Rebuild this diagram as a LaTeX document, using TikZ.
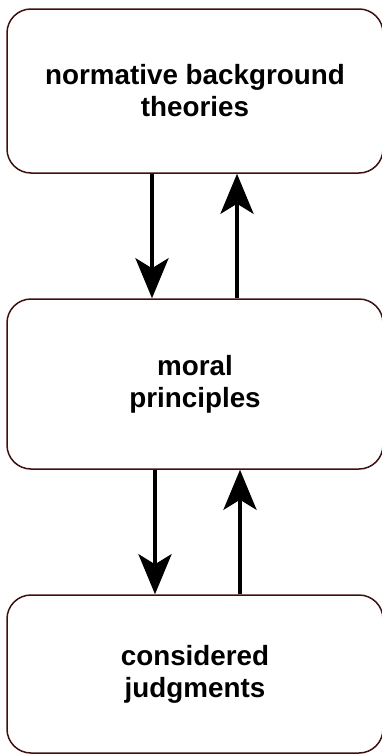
\documentclass[tikz,border=0pt]{standalone}
\usepackage{fontspec}
\setmainfont{Liberation Sans}
\usetikzlibrary{arrows.meta}
\definecolor{boxline}{RGB}{64,16,16}
\begin{document}
\begin{tikzpicture}[x=1pt,y=-1pt,
  stage/.style={draw=boxline, line width=1.5pt, rounded corners=24pt,
    minimum width=376pt, align=center,
    font=\fontsize{27.8}{32}\selectfont\bfseries},
  flow/.style={line width=4pt, -{Stealth[length=40pt,width=33pt,inset=10pt]}}]
  \useasboundingbox (0,0) rectangle (382,755);
  \node[stage, minimum height=164pt] (theories) at (195,91) {normative background\\theories};
  \node[stage, minimum height=170pt] (principles) at (195,384) {moral\\principles};
  \node[stage, minimum height=158pt] (judgments) at (195,674) {considered\\judgments};
  \draw[flow] ([xshift=-43pt]theories.south) -- ([xshift=-43pt]principles.north);
  \draw[flow] ([xshift=42pt]principles.north) -- ([xshift=42pt]theories.south);
  \draw[flow] ([xshift=-40pt]principles.south) -- ([xshift=-40pt]judgments.north);
  \draw[flow] ([xshift=45pt]judgments.north) -- ([xshift=45pt]principles.south);
\end{tikzpicture}
\end{document}
